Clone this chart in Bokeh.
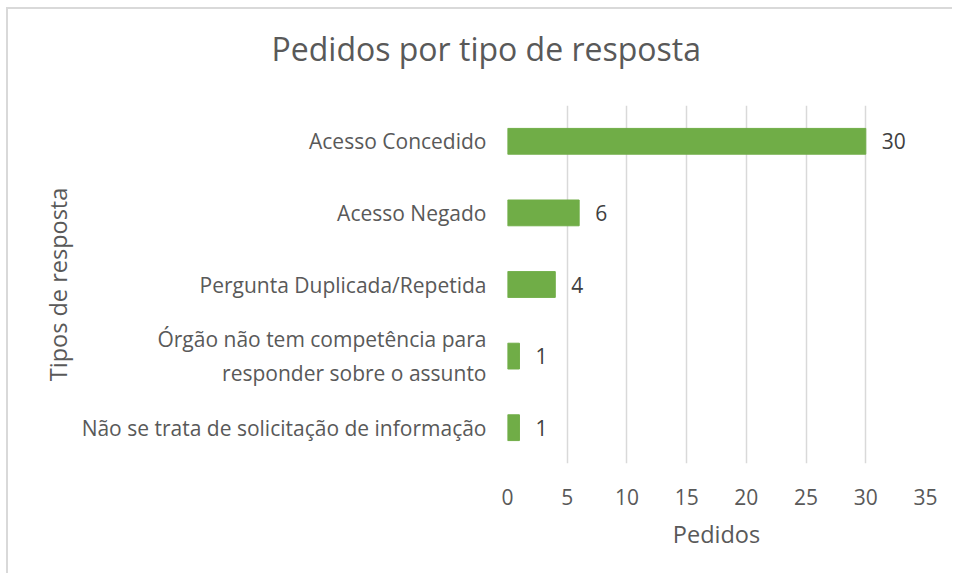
from bokeh.plotting import figure
from bokeh.models import ColumnDataSource, FixedTicker, Title
from bokeh.core.properties import value
from bokeh.embed import file_html
from bokeh.resources import INLINE

title_text = "Pedidos por tipo de resposta"
categories = [
    "Acesso Concedido",
    "Acesso Negado",
    "Pergunta Duplicada/Repetida",
    "Órgão não tem competência para\nresponder sobre o assunto",
    "Não se trata de solicitação de informação",
]
pedidos = [30, 6, 4, 1, 1]
x_ticks = [0, 5, 10, 15, 20, 25, 30, 35]

FONT = "Open Sans"
TXT = "#595959"

src = ColumnDataSource(dict(cat=categories, val=pedidos, lab=[str(v) for v in pedidos]))

p = figure(
    width=946, height=566,
    y_range=list(reversed(categories)),
    x_range=(0, 35),
    output_backend="svg", toolbar_location=None,
    min_border_left=499, min_border_right=29, min_border_top=96, min_border_bottom=112,
)
p.styles = {"border-left": "2px solid #D9D9D9", "border-top": "2px solid #D9D9D9",
            "margin-left": "6px", "margin-top": "7px"}

p.hbar(y="cat", right="val", left=0, height=0.36, source=src, color="#70AD47")
p.text(x="val", y="cat", text="lab", source=src, x_offset=16,
       text_align="left", text_baseline="middle", text_color="#404040",
       text_font=value(FONT), text_font_size="21px")

spacer = Title(text=" ", standoff=33, text_font_size="1px", text_color="white")
main_title = Title(text=title_text, align="left", offset=-236, standoff=0,
                   text_font=FONT, text_font_size="32px", text_font_style="normal",
                   text_color=TXT)
p.add_layout(spacer, "above")
p.add_layout(main_title, "above")

p.outline_line_color = None

p.xaxis.ticker = FixedTicker(ticks=x_ticks)
p.xaxis.axis_label = "Pedidos"
p.yaxis.axis_label = "Tipos de resposta"
for ax in (p.xaxis, p.yaxis):
    ax.axis_line_color = None
    ax.major_tick_line_color = None
    ax.minor_tick_line_color = None
    ax.major_label_text_font = FONT
    ax.major_label_text_font_size = "21px"
    ax.major_label_text_color = TXT
    ax.axis_label_text_font = FONT
    ax.axis_label_text_font_size = "23.5px"
    ax.axis_label_text_font_style = "normal"
    ax.axis_label_text_color = TXT
p.xaxis.major_label_standoff = 19
p.xaxis.axis_label_standoff = 10
p.yaxis.major_label_standoff = 15
p.yaxis.axis_label_standoff = 5

p.ygrid.grid_line_color = None
p.xgrid.grid_line_color = "#D9D9D9"
p.xgrid.grid_line_width = 1.5
p.background_fill_color = "white"
p.border_fill_color = "white"

open("out.html", "w").write(file_html(p, INLINE))
